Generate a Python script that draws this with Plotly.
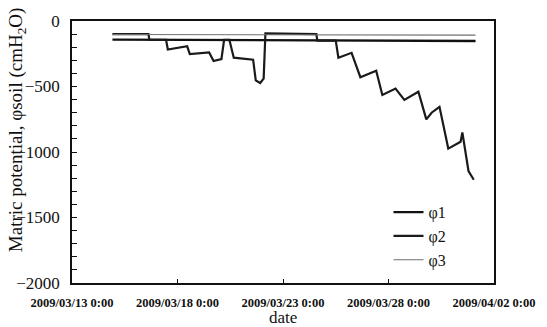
import plotly.graph_objects as go

# Matric potential time series (cmH2O)
phi1_time = ["2009-03-14 22:00", "2009-03-23 12:00", "2009-04-01 03:00"]
phi1_vals = [-142, -147, -153]

phi3_time = ["2009-03-14 22:00", "2009-03-23 12:00", "2009-04-01 03:00"]
phi3_vals = [-103, -105, -108]

phi2_time = [
    "2009-03-14 22:00", "2009-03-16 15:00", "2009-03-16 16:00", "2009-03-17 11:00",
    "2009-03-17 13:00", "2009-03-18 11:00", "2009-03-18 14:00", "2009-03-19 02:00",
    "2009-03-19 12:00", "2009-03-19 17:00", "2009-03-20 02:00", "2009-03-20 05:00",
    "2009-03-20 11:00", "2009-03-20 16:00", "2009-03-21 06:00", "2009-03-21 14:00",
    "2009-03-21 17:00", "2009-03-21 22:00", "2009-03-22 02:00", "2009-03-22 04:00",
    "2009-03-24 14:00", "2009-03-24 15:00", "2009-03-25 12:00", "2009-03-25 15:00",
    "2009-03-26 06:00", "2009-03-26 16:00", "2009-03-27 10:00", "2009-03-27 17:00",
    "2009-03-28 08:00", "2009-03-28 18:00", "2009-03-29 10:00", "2009-03-29 19:00",
    "2009-03-30 01:00", "2009-03-30 10:00", "2009-03-30 20:00", "2009-03-31 10:00",
    "2009-03-31 12:00", "2009-03-31 19:00", "2009-04-01 01:00",
]
phi2_vals = [
    -100, -100, -144, -144,
    -218, -193, -253, -243,
    -240, -305, -290, -144,
    -144, -280, -292, -295,
    -453, -473, -440, -95,
    -100, -150, -150, -280,
    -243, -429, -379, -565,
    -516, -602, -540, -751,
    -700, -655, -974, -922,
    -850, -1145, -1212,
]

serif = "Liberation Serif, Times New Roman, serif"
ink = "#111111"

fig = go.Figure()
fig.add_trace(go.Scatter(x=phi1_time, y=phi1_vals, mode="lines", name="φ1",
                         line=dict(color=ink, width=2.4)))
fig.add_trace(go.Scatter(x=phi2_time, y=phi2_vals, mode="lines", name="φ2",
                         line=dict(color="#1a1a1a", width=2.2)))
fig.add_trace(go.Scatter(x=phi3_time, y=phi3_vals, mode="lines", name="φ3",
                         line=dict(color="#707070", width=1.2)))

fig.update_layout(
    width=547, height=327,
    margin=dict(l=72, r=43, t=14, b=44),
    paper_bgcolor="white", plot_bgcolor="white",
    font=dict(family=serif, color=ink),
    showlegend=True,
    legend=dict(x=0.75, y=0.335, xanchor="left", yanchor="top",
                bgcolor="rgba(0,0,0,0)", font=dict(family=serif, size=16, color=ink),
                tracegroupgap=0),
    xaxis=dict(
        type="date",
        range=["2009-03-13", "2009-04-02"],
        tick0="2009-03-13", dtick=5 * 86400000,
        tickformat="%Y/%m/%d %-H:%M",
        ticks="inside", ticklen=4, tickwidth=1, tickcolor=ink,
        showline=True, linecolor=ink, linewidth=1.5, mirror=True,
        showgrid=False, zeroline=False,
        tickfont=dict(family=serif, size=12.5, weight="bold", color=ink),
        ticklabelstandoff=7,
    ),
    yaxis=dict(
        range=[-2000, 0],
        dtick=500,
        ticks="inside", ticklen=5, tickwidth=1, tickcolor=ink,
        minor=dict(dtick=100, ticks="inside", ticklen=5, tickwidth=1, tickcolor=ink),
        showline=True, linecolor=ink, linewidth=1.5, mirror=True,
        showgrid=False, zeroline=False,
        tickfont=dict(family=serif, size=17, color=ink),
        ticklabelstandoff=7,
    ),
    annotations=[
        dict(text="Matric potential, φsoil (cmH<sub>2</sub>O)", textangle=-90,
             xref="paper", yref="paper", x=-0.13, y=0.584, xanchor="center", yanchor="middle",
             showarrow=False, font=dict(family=serif, size=19, color=ink)),
        dict(text="date", xref="paper", yref="paper", x=0.5, y=-0.133,
             xanchor="center", yanchor="middle", showarrow=False,
             font=dict(family=serif, size=17, color=ink)),
    ],
)

fig.write_html("out.html")
